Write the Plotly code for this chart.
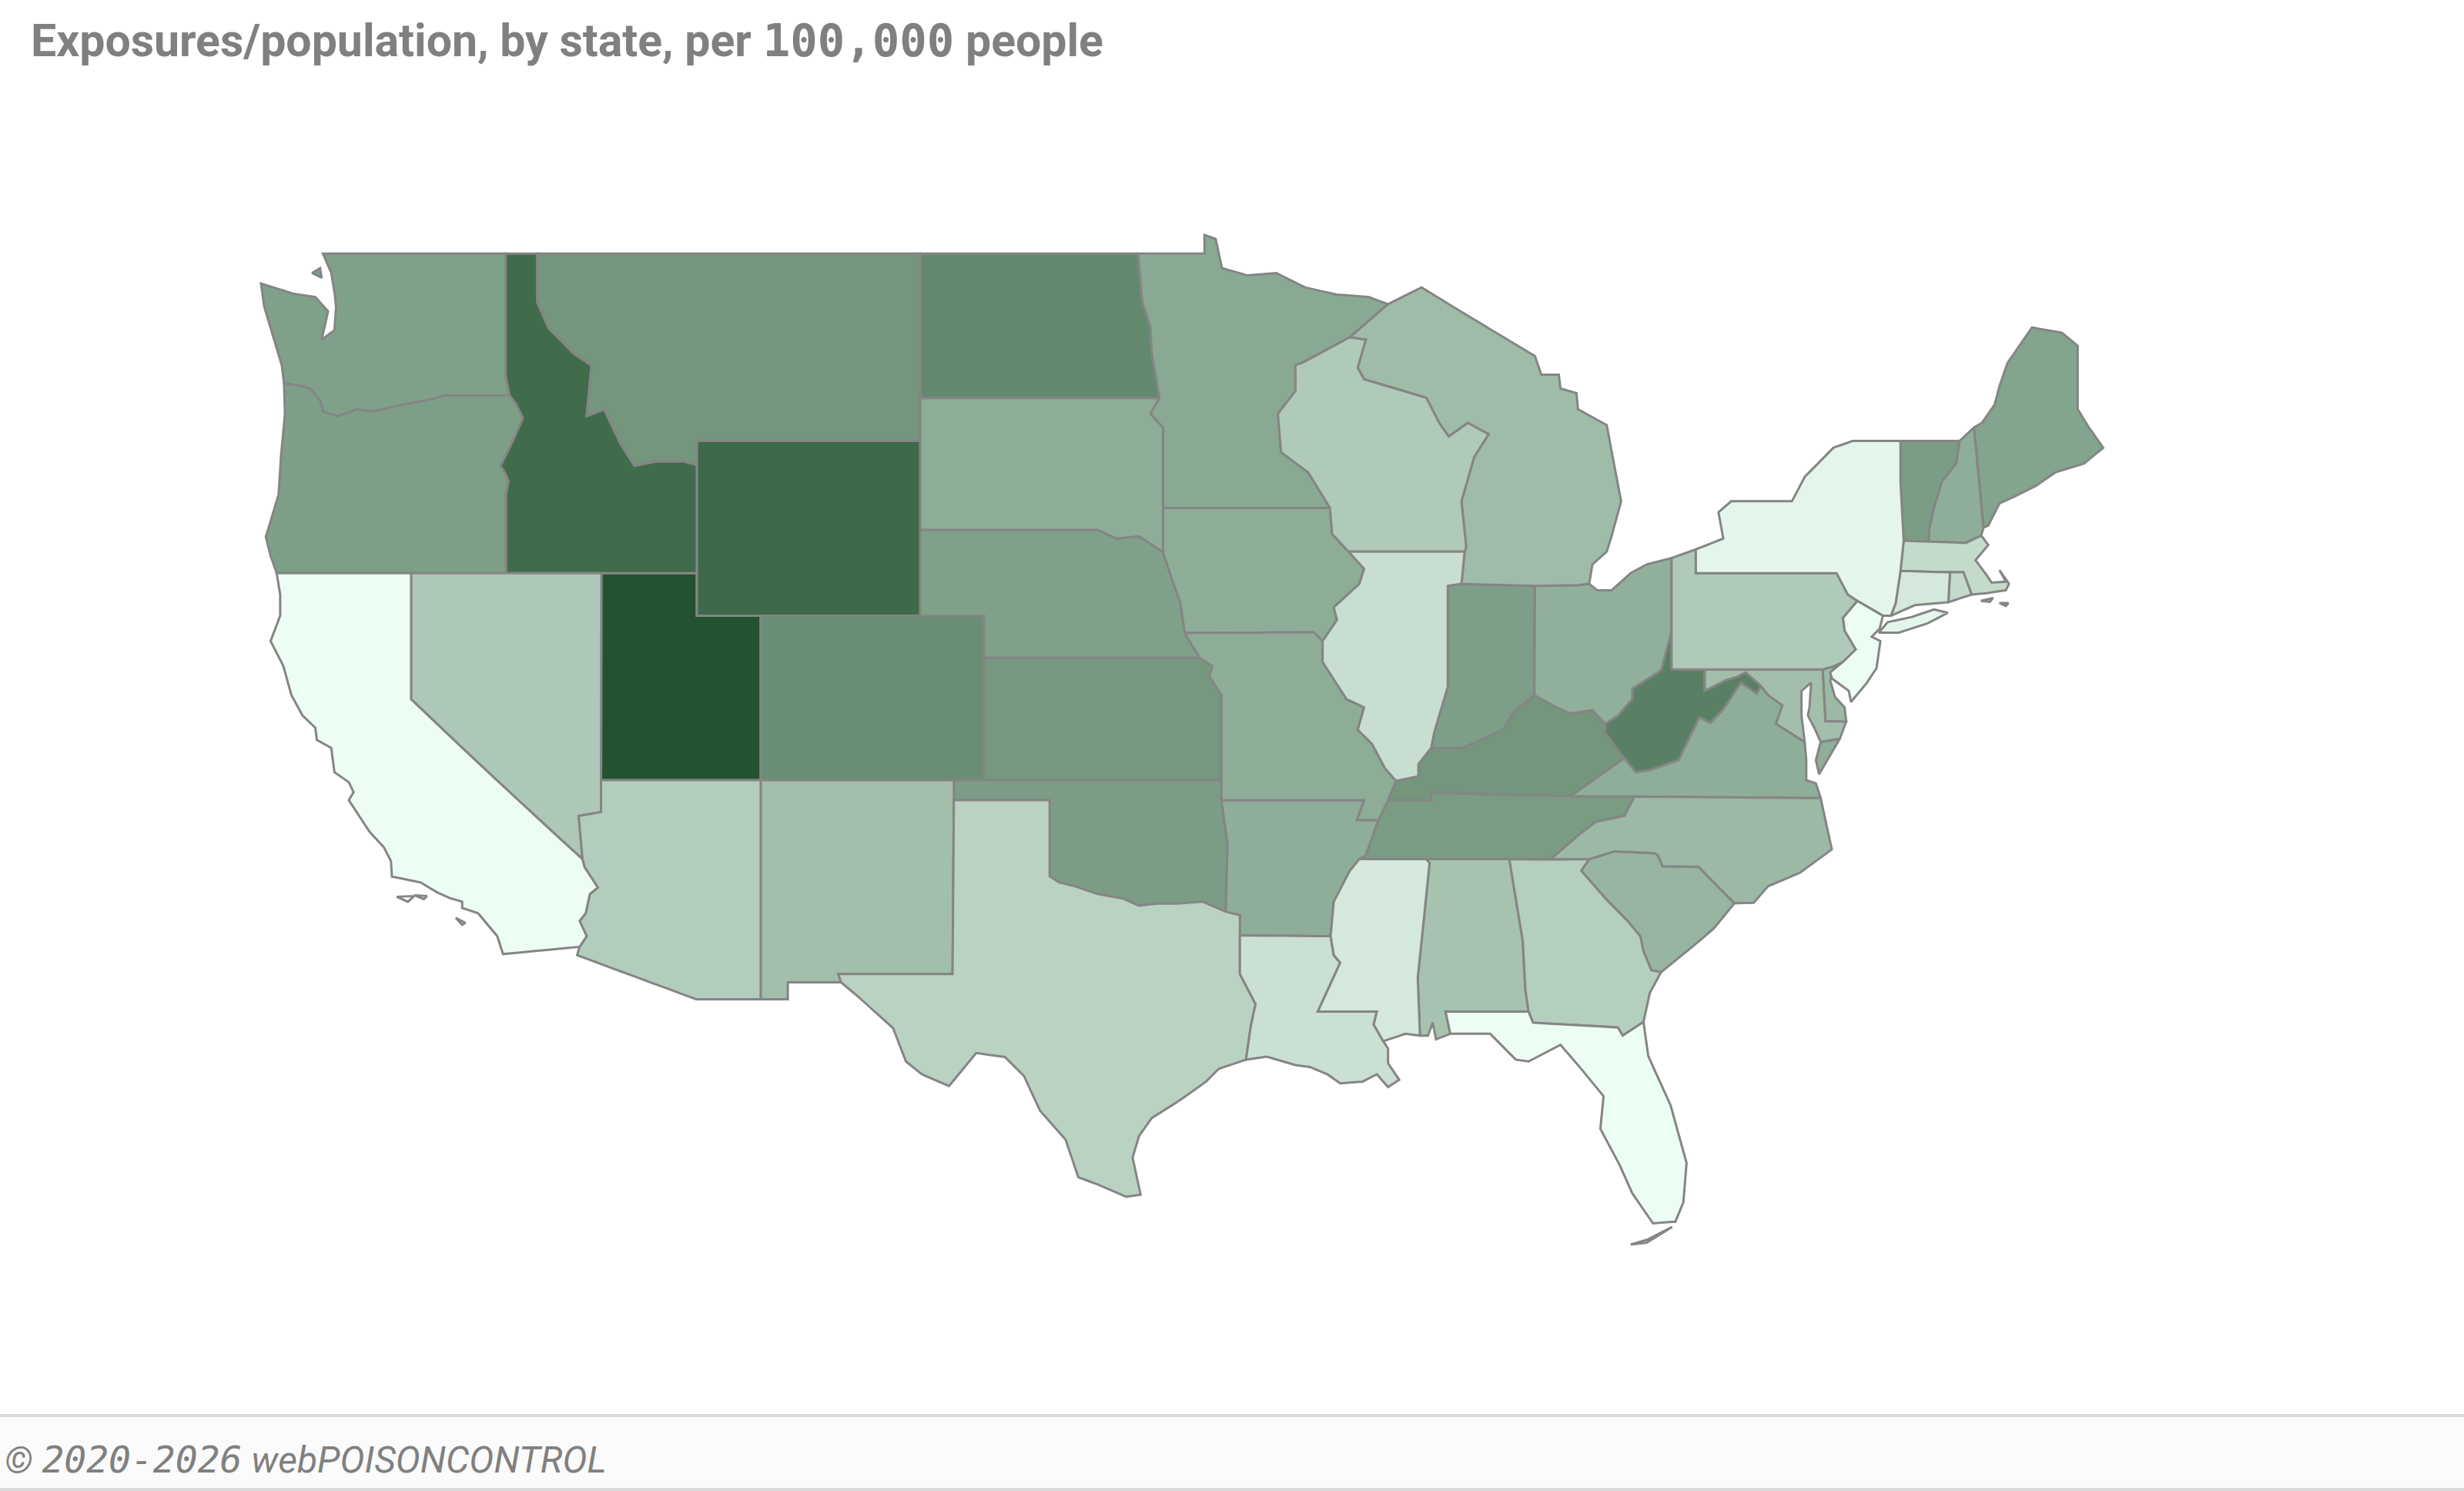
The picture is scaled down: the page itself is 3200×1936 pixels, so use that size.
import math

import plotly.colors
import plotly.graph_objects as go

# plotly fetches its US topojson from a CDN and there is no network here,
# so the state outlines are typed in by hand (lon, lat) and drawn as filled scattergeo traces
states = ["UT", "WY", "ID", "WV", "ND", "CO", "MT", "KS", "KY", "OK", "TN", "VT", "IN", "OR", "WA",
          "NE", "ME", "OH", "IA", "MN", "AR", "MO", "NH", "SD", "VA", "SC", "DE", "NC", "MI", "MD",
          "NM", "AL", "PA", "NV", "WI", "AZ", "GA", "TX", "MA", "RI", "LA", "IL", "CT", "MS", "NY",
          "NJ", "FL", "CA"]
rates = [100, 86, 85, 73, 68, 65, 60, 59, 60, 56, 57, 56, 55, 55, 54,
         54, 52, 45, 47, 49, 46, 47, 46, 47, 46, 42, 40, 40, 38, 36,
         36, 34, 30, 31, 30, 28, 27, 25, 20, 20, 17, 18, 12, 12, 4,
         0, 0, 0]

outlines = {
    "WA": [[(-122.76, 49), (-122.5, 48.6), (-122.4, 48.2), (-122.35, 47.9), (-122.4, 47.4), (-122.8, 47.2), (-122.6, 47.8), (-123, 48.1), (-123.7, 48.17), (-124.7, 48.38), (-124.6, 47.9), (-124.2, 47), (-124.05, 46.65), (-123.98, 46.27), (-123.4, 46.2), (-123.15, 46.15), (-122.85, 45.9), (-122.75, 45.65), (-122.3, 45.55), (-121.7, 45.7), (-121.2, 45.65), (-120.6, 45.75), (-119.9, 45.85), (-119.3, 45.93), (-118.98, 46), (-116.92, 46), (-117.04, 46.42), (-117.04, 49)],
           [(-123.1, 48.6), (-122.85, 48.7), (-122.8, 48.5)]],
    "OR": [[(-123.98, 46.27), (-123.95, 45.6), (-124.07, 44.7), (-124.15, 43.8), (-124.4, 43.2), (-124.55, 42.84), (-124.4, 42.4), (-124.21, 42), (-120, 42), (-117.03, 42), (-117.03, 43.8), (-116.95, 44.1), (-117.03, 44.25), (-117.2, 44.45), (-116.85, 44.95), (-116.5, 45.5), (-116.7, 45.8), (-116.92, 46), (-118.98, 46), (-119.3, 45.93), (-119.9, 45.85), (-120.6, 45.75), (-121.2, 45.65), (-121.7, 45.7), (-122.3, 45.55), (-122.75, 45.65), (-122.85, 45.9), (-123.15, 46.15), (-123.4, 46.2)]],
    "CA": [[(-124.21, 42), (-124.1, 41.5), (-124.1, 41), (-124.4, 40.4), (-124, 39.8), (-123.75, 39.1), (-123.4, 38.6), (-123, 38.3), (-122.95, 38), (-122.5, 37.8), (-122.4, 37.2), (-121.95, 36.95), (-121.8, 36.7), (-121.95, 36.5), (-121.3, 35.7), (-120.85, 35.3), (-120.63, 34.95), (-120.6, 34.55), (-119.7, 34.4), (-119.2, 34.15), (-118.8, 34), (-118.4, 33.9), (-118.4, 33.74), (-117.9, 33.6), (-117.3, 33), (-117.12, 32.53), (-114.72, 32.72), (-114.5, 33), (-114.72, 33.4), (-114.53, 33.6), (-114.4, 34.1), (-114.15, 34.27), (-114.57, 34.8), (-114.63, 35), (-120, 39), (-120, 42)],
           [(-120.45, 34.03), (-119.9, 34.05), (-120.1, 33.9)], [(-119.9, 34.07), (-119.5, 34.05), (-119.6, 33.97)], [(-118.6, 33.48), (-118.3, 33.35), (-118.4, 33.3)]],
    "NV": [[(-120, 42), (-120, 39), (-114.63, 35), (-114.75, 36.1), (-114.05, 36.2), (-114.05, 37), (-114.04, 42), (-117.03, 42)]],
    "ID": [[(-117.04, 49), (-117.04, 46.42), (-116.92, 46), (-116.7, 45.8), (-116.5, 45.5), (-116.85, 44.95), (-117.2, 44.45), (-117.03, 44.25), (-116.95, 44.1), (-117.03, 43.8), (-117.03, 42), (-114.04, 42), (-111.05, 42), (-111.05, 44.47), (-111.5, 44.55), (-112.3, 44.55), (-113, 44.45), (-113.45, 44.95), (-113.95, 45.7), (-114.5, 45.55), (-114.35, 46.65), (-114.9, 46.9), (-115.7, 47.45), (-116.05, 48), (-116.05, 49)]],
    "MT": [[(-116.05, 49), (-116.05, 48), (-115.7, 47.45), (-114.9, 46.9), (-114.35, 46.65), (-114.5, 45.55), (-113.95, 45.7), (-113.45, 44.95), (-113, 44.45), (-112.3, 44.55), (-111.5, 44.55), (-111.05, 44.47), (-111.05, 45), (-104.05, 45), (-104.05, 45.94), (-104.05, 49)]],
    "WY": [[(-111.05, 45), (-104.05, 45), (-104.05, 43), (-104.05, 41), (-109.05, 41), (-111.05, 41), (-111.05, 42), (-111.05, 44.47)]],
    "UT": [[(-114.04, 42), (-111.05, 42), (-111.05, 41), (-109.05, 41), (-109.05, 37), (-114.05, 37)]],
    "AZ": [[(-114.05, 37), (-109.05, 37), (-109.05, 31.33), (-111.07, 31.33), (-114.8, 32.5), (-114.72, 32.72), (-114.5, 33), (-114.72, 33.4), (-114.53, 33.6), (-114.4, 34.1), (-114.15, 34.27), (-114.57, 34.8), (-114.63, 35), (-114.75, 36.1), (-114.05, 36.2)]],
    "CO": [[(-109.05, 41), (-104.05, 41), (-102.05, 41), (-102.05, 40), (-102.05, 37), (-103, 37), (-109.05, 37)]],
    "NM": [[(-109.05, 37), (-103, 37), (-103, 36.5), (-103.04, 32), (-106.62, 32), (-106.53, 31.78), (-108.2, 31.78), (-108.2, 31.33), (-109.05, 31.33)]],
    "ND": [[(-104.05, 49), (-97.23, 49), (-97.1, 48), (-96.85, 47.5), (-96.8, 46.9), (-96.56, 45.94), (-104.05, 45.94)]],
    "SD": [[(-104.05, 45.94), (-96.56, 45.94), (-96.85, 45.6), (-96.45, 45.3), (-96.45, 43.5), (-96.45, 42.49), (-97.2, 42.85), (-97.9, 42.8), (-98.5, 43), (-104.05, 43), (-104.05, 45)]],
    "NE": [[(-104.05, 43), (-98.5, 43), (-97.9, 42.8), (-97.2, 42.85), (-96.45, 42.49), (-96.1, 41.7), (-95.9, 41.3), (-95.77, 40.59), (-95.3, 40), (-102.05, 40), (-102.05, 41), (-104.05, 41)]],
    "KS": [[(-102.05, 40), (-95.3, 40), (-94.9, 39.8), (-95, 39.55), (-94.62, 39.1), (-94.62, 37), (-103, 37), (-102.05, 37)]],
    "OK": [[(-103, 37), (-94.62, 37), (-94.62, 36.5), (-94.43, 35.4), (-94.48, 33.64), (-95.2, 33.9), (-96, 33.85), (-96.6, 33.85), (-97.2, 33.8), (-97.7, 33.98), (-98.5, 34.1), (-99.2, 34.3), (-99.7, 34.4), (-100, 34.56), (-100, 36.5), (-103, 36.5)]],
    "TX": [[(-106.62, 32), (-103.04, 32), (-103, 36.5), (-100, 36.5), (-100, 34.56), (-99.7, 34.4), (-99.2, 34.3), (-98.5, 34.1), (-97.7, 33.98), (-97.2, 33.8), (-96.6, 33.85), (-96, 33.85), (-95.2, 33.9), (-94.48, 33.64), (-94.04, 33.55), (-94.04, 33.02), (-94.04, 32), (-93.55, 31.2), (-93.7, 30.6), (-93.85, 29.7), (-94.7, 29.45), (-95.1, 29.1), (-95.9, 28.6), (-96.8, 28.1), (-97.2, 27.6), (-97.4, 27), (-97.15, 25.96), (-97.6, 25.9), (-98.5, 26.25), (-99.1, 26.45), (-99.5, 27.5), (-100.3, 28.3), (-100.8, 29.25), (-101.4, 29.77), (-102.3, 29.88), (-103.15, 28.98), (-104, 29.3), (-104.5, 29.65), (-104.9, 30.55), (-106, 31.4), (-106.53, 31.78)]],
    "MN": [[(-97.23, 49), (-95.15, 49), (-95.15, 49.38), (-94.8, 49.3), (-94.6, 48.7), (-93.8, 48.55), (-92.9, 48.6), (-92, 48.3), (-91, 48.15), (-90, 48.1), (-89.4, 47.95), (-90.6, 47.25), (-92.1, 46.7), (-92.3, 46.66), (-92.3, 46.1), (-92.85, 45.6), (-92.75, 44.75), (-91.9, 44.3), (-91.22, 43.5), (-96.45, 43.5), (-96.45, 45.3), (-96.85, 45.6), (-96.56, 45.94), (-96.8, 46.9), (-96.85, 47.5), (-97.1, 48)]],
    "WI": [[(-92.1, 46.7), (-90.6, 47.25), (-90.1, 47.2), (-90.35, 46.6), (-90.15, 46.35), (-88.2, 45.95), (-87.8, 45.4), (-87.5, 45.1), (-86.9, 45.4), (-86.25, 45.15), (-86.7, 44.65), (-87.1, 43.65), (-86.95, 42.6), (-87, 42.5), (-90.64, 42.5), (-91.15, 42.9), (-91.22, 43.5), (-91.9, 44.3), (-92.75, 44.75), (-92.85, 45.6), (-92.3, 46.1), (-92.3, 46.66)]],
    "MI": [[(-89.4, 47.95), (-88.35, 48.3), (-84.8, 46.85), (-84.6, 46.45), (-84.05, 46.45), (-84, 46.15), (-83.5, 46.05), (-83.45, 45.7), (-82.55, 45.35), (-82.1, 43.65), (-82.4, 42.85), (-82.55, 42.5), (-83, 42.2), (-83.1, 41.75), (-83.45, 41.72), (-84.8, 41.7), (-87.1, 41.75), (-87, 42.5), (-86.95, 42.6), (-87.1, 43.65), (-86.7, 44.65), (-86.25, 45.15), (-86.9, 45.4), (-87.5, 45.1), (-87.8, 45.4), (-88.2, 45.95), (-90.15, 46.35), (-90.35, 46.6), (-90.1, 47.2), (-90.6, 47.25)]],
    "IA": [[(-96.45, 43.5), (-91.22, 43.5), (-91.15, 42.9), (-90.64, 42.5), (-90.15, 42.1), (-90.3, 41.75), (-91.1, 41.2), (-91, 40.9), (-91.45, 40.4), (-91.73, 40.61), (-95.77, 40.59), (-95.9, 41.3), (-96.1, 41.7), (-96.45, 42.49)]],
    "IL": [[(-90.64, 42.5), (-87, 42.5), (-87.1, 41.75), (-87.53, 41.7), (-87.53, 39.3), (-87.95, 38.2), (-88.05, 37.8), (-88.45, 37.4), (-88.45, 37.1), (-89.15, 36.98), (-89.5, 37.3), (-89.9, 37.9), (-90.35, 38.25), (-90.15, 38.8), (-90.7, 39), (-91.45, 39.9), (-91.45, 40.4), (-91, 40.9), (-91.1, 41.2), (-90.3, 41.75), (-90.15, 42.1)]],
    "IN": [[(-87.53, 41.7), (-87.1, 41.75), (-84.8, 41.7), (-84.82, 39.1), (-85.45, 38.7), (-85.8, 38.25), (-86.5, 38), (-87.1, 37.8), (-88.05, 37.8), (-87.95, 38.2), (-87.53, 39.3)]],
    "OH": [[(-84.8, 41.7), (-83.45, 41.72), (-83.1, 41.75), (-82.85, 41.6), (-82.4, 41.6), (-81.8, 42), (-81.3, 42.2), (-80.52, 42.35), (-80.52, 40.64), (-80.6, 40.4), (-80.85, 39.7), (-81.75, 39.25), (-81.75, 39), (-82.2, 38.6), (-82.6, 38.4), (-83, 38.73), (-83.7, 38.65), (-84.25, 38.85), (-84.82, 39.1)]],
    "MO": [[(-95.77, 40.59), (-91.73, 40.61), (-91.45, 40.4), (-91.45, 39.9), (-90.7, 39), (-90.15, 38.8), (-90.35, 38.25), (-89.9, 37.9), (-89.5, 37.3), (-89.15, 36.98), (-89.4, 36.5), (-89.7, 36), (-90.37, 36), (-90.15, 36.5), (-94.62, 36.5), (-94.62, 37), (-94.62, 39.1), (-95, 39.55), (-94.9, 39.8), (-95.3, 40)]],
    "AR": [[(-94.62, 36.5), (-90.15, 36.5), (-90.37, 36), (-89.7, 36), (-90.1, 35.1), (-90.3, 35), (-90.6, 34.7), (-91.1, 33.9), (-91.2, 33), (-94.04, 33.02), (-94.04, 33.55), (-94.48, 33.64), (-94.43, 35.4)]],
    "LA": [[(-94.04, 33.02), (-91.2, 33), (-91.1, 32.5), (-90.9, 32.3), (-91.6, 31), (-89.75, 31), (-89.85, 30.65), (-89.55, 30.2), (-89.4, 30), (-89.4, 29.6), (-89.05, 29.15), (-89.4, 28.95), (-89.75, 29.3), (-90.2, 29.1), (-90.9, 29.05), (-91.3, 29.3), (-91.85, 29.5), (-92.3, 29.55), (-93.2, 29.78), (-93.85, 29.7), (-93.7, 30.6), (-93.55, 31.2), (-94.04, 32)]],
    "MS": [[(-90.3, 35), (-88.2, 35), (-88.1, 34.9), (-88.47, 31.9), (-88.4, 30.35), (-88.85, 30.4), (-89.55, 30.2), (-89.85, 30.65), (-89.75, 31), (-91.6, 31), (-90.9, 32.3), (-91.1, 32.5), (-91.2, 33), (-91.1, 33.9), (-90.6, 34.7)]],
    "AL": [[(-88.2, 35), (-85.6, 35), (-85.18, 32.87), (-85.1, 31.6), (-85, 31), (-87.6, 31), (-87.45, 30.4), (-87.9, 30.25), (-88, 30.7), (-88.15, 30.35), (-88.4, 30.35), (-88.47, 31.9), (-88.1, 34.9)]],
    "TN": [[(-89.4, 36.5), (-88.05, 36.5), (-88.05, 36.68), (-83.68, 36.6), (-81.68, 36.59), (-82, 36.1), (-82.9, 35.95), (-83.5, 35.57), (-84.32, 34.99), (-85.6, 35), (-88.2, 35), (-90.3, 35), (-90.1, 35.1), (-89.7, 36)]],
    "KY": [[(-89.15, 36.98), (-88.45, 37.1), (-88.45, 37.4), (-88.05, 37.8), (-87.1, 37.8), (-86.5, 38), (-85.8, 38.25), (-85.45, 38.7), (-84.82, 39.1), (-84.25, 38.85), (-83.7, 38.65), (-83, 38.73), (-82.6, 38.4), (-82.6, 38.17), (-82, 37.55), (-83.68, 36.6), (-88.05, 36.68), (-88.05, 36.5), (-89.4, 36.5)]],
    "WV": [[(-80.52, 40.64), (-80.52, 39.72), (-79.48, 39.72), (-79.48, 39.2), (-78.85, 39.45), (-78.45, 39.55), (-78.2, 39.65), (-77.72, 39.32), (-77.85, 39.13), (-78.35, 39.4), (-78.9, 38.75), (-79.3, 38.42), (-79.65, 38.55), (-80.3, 37.5), (-81.2, 37.25), (-81.65, 37.2), (-82, 37.55), (-82.6, 38.17), (-82.6, 38.4), (-82.2, 38.6), (-81.75, 39), (-81.75, 39.25), (-80.85, 39.7), (-80.6, 40.4)]],
    "VA": [[(-83.68, 36.6), (-82, 37.55), (-81.65, 37.2), (-81.2, 37.25), (-80.3, 37.5), (-79.65, 38.55), (-79.3, 38.42), (-78.9, 38.75), (-78.35, 39.4), (-77.85, 39.13), (-77.72, 39.32), (-77.5, 39.1), (-77.05, 38.85), (-77.25, 38.4), (-76.95, 38.25), (-76.35, 37.95), (-76.3, 37.5), (-76.3, 37), (-76, 36.92), (-75.85, 36.55), (-81.68, 36.59)],
           [(-75.85, 37.95), (-75.25, 38.03), (-75.9, 37.15), (-76, 37.5)]],
    "NC": [[(-84.32, 34.99), (-83.5, 35.57), (-82.9, 35.95), (-82, 36.1), (-81.68, 36.59), (-75.85, 36.55), (-75.5, 35.25), (-76.5, 34.65), (-77.5, 34.3), (-77.95, 33.87), (-78.55, 33.86), (-79.67, 34.8), (-80.8, 34.82), (-80.95, 35.1), (-81.05, 35.15), (-82.3, 35.2), (-83.1, 35)]],
    "SC": [[(-83.1, 35), (-82.3, 35.2), (-81.05, 35.15), (-80.95, 35.1), (-80.8, 34.82), (-79.67, 34.8), (-78.55, 33.86), (-79.2, 33.2), (-79.9, 32.7), (-80.85, 32.05), (-81.15, 32.1), (-81.4, 32.6), (-81.5, 33), (-81.9, 33.4), (-82.55, 33.95), (-83.35, 34.7)]],
    "GA": [[(-85.6, 35), (-84.32, 34.99), (-83.1, 35), (-83.35, 34.7), (-82.55, 33.95), (-81.9, 33.4), (-81.5, 33), (-81.4, 32.6), (-81.15, 32.1), (-80.85, 32.05), (-81.2, 31.5), (-81.4, 30.72), (-82.05, 30.35), (-82.2, 30.57), (-84.86, 30.7), (-85, 31), (-85.1, 31.6), (-85.18, 32.87)]],
    "FL": [[(-87.6, 31), (-85, 31), (-84.86, 30.7), (-82.2, 30.57), (-82.05, 30.35), (-81.4, 30.72), (-81.25, 29.8), (-80.55, 28.45), (-80.05, 26.85), (-80.15, 25.75), (-80.4, 25.2), (-81.1, 25.15), (-81.75, 26), (-82.15, 26.8), (-82.75, 27.8), (-82.65, 28.7), (-83.4, 29.5), (-84, 30.1), (-85, 29.65), (-85.4, 29.7), (-86.2, 30.4), (-87.45, 30.4)],
           [(-81.8, 24.55), (-81.3, 24.68), (-80.5, 25.05), (-81.3, 24.6)]],
    "PA": [[(-80.52, 42.35), (-79.76, 42.55), (-79.76, 42), (-75.35, 42), (-75, 41.5), (-74.7, 41.35), (-75.15, 40.95), (-75.1, 40.65), (-74.75, 40.2), (-75.15, 39.9), (-75.42, 39.8), (-75.79, 39.72), (-79.48, 39.72), (-80.52, 39.72), (-80.52, 40.64)]],
    "NY": [[(-79.76, 42), (-79.76, 42.55), (-78.9, 42.8), (-79.05, 43.4), (-78.65, 43.65), (-76.75, 43.65), (-76.35, 44.2), (-75.45, 44.85), (-74.85, 45), (-73.35, 45), (-73.35, 44.1), (-73.25, 42.75), (-73.35, 42.05), (-73.5, 41.3), (-73.65, 41), (-73.9, 41), (-74.7, 41.35), (-75, 41.5), (-75.35, 42)],
           [(-74.03, 40.6), (-73.75, 40.85), (-73, 40.97), (-72.3, 41.15), (-71.87, 41.07), (-72.5, 40.82), (-73.4, 40.6)]],
    "VT": [[(-73.35, 45), (-71.5, 45), (-71.6, 44.5), (-72.05, 44.1), (-72.3, 43.5), (-72.45, 43), (-72.46, 42.73), (-73.25, 42.75), (-73.35, 44.1)]],
    "NH": [[(-71.5, 45), (-71.05, 45.3), (-70.75, 43.05), (-70.82, 42.87), (-71.3, 42.7), (-72.46, 42.73), (-72.45, 43), (-72.3, 43.5), (-72.05, 44.1), (-71.6, 44.5)]],
    "ME": [[(-71.05, 45.3), (-70.8, 45.4), (-70.4, 45.8), (-70.25, 46.2), (-70, 46.7), (-69.23, 47.46), (-69, 47.43), (-68.3, 47.35), (-67.8, 47.07), (-67.8, 45.7), (-67.45, 45.3), (-67, 44.85), (-67.6, 44.5), (-68.5, 44.3), (-69.1, 44), (-69.8, 43.75), (-70.25, 43.6), (-70.6, 43.1), (-70.75, 43.05)]],
    "MA": [[(-73.25, 42.75), (-72.46, 42.73), (-71.3, 42.7), (-70.82, 42.87), (-70.6, 42.65), (-71, 42.3), (-70.65, 41.95), (-70.5, 41.78), (-70.05, 41.8), (-70.25, 42.07), (-69.95, 41.75), (-70.05, 41.6), (-70.65, 41.53), (-71.12, 41.5), (-71.38, 42.02), (-71.8, 42.02), (-73.35, 42.05)],
           [(-70.83, 41.35), (-70.45, 41.42), (-70.55, 41.33)], [(-70.25, 41.3), (-69.97, 41.3), (-70.05, 41.23)]],
    "CT": [[(-73.35, 42.05), (-71.8, 42.02), (-71.85, 41.32), (-72.9, 41.25), (-73.65, 41), (-73.5, 41.3)]],
    "RI": [[(-71.8, 42.02), (-71.38, 42.02), (-71.12, 41.5), (-71.85, 41.32)]],
    "NJ": [[(-74.7, 41.35), (-73.9, 41), (-74, 40.7), (-74.25, 40.5), (-73.98, 40.4), (-74.1, 39.75), (-74.4, 39.4), (-74.9, 38.93), (-74.97, 39.2), (-75.5, 39.5), (-75.55, 39.65), (-75.15, 39.9), (-74.75, 40.2), (-75.1, 40.65), (-75.15, 40.95)]],
    "DE": [[(-75.79, 39.72), (-75.42, 39.8), (-75.55, 39.45), (-75.4, 39.05), (-75.1, 38.8), (-75.05, 38.45), (-75.7, 38.46)]],
    "MD": [[(-79.48, 39.72), (-75.79, 39.72), (-75.7, 38.46), (-75.05, 38.45), (-75.25, 38.03), (-75.85, 37.95), (-76.05, 38.3), (-76.25, 38.6), (-76.2, 38.8), (-76.15, 39.4), (-76.45, 39.2), (-76.45, 38.6), (-76.35, 37.95), (-76.95, 38.25), (-77.25, 38.4), (-77.05, 38.85), (-77.5, 39.1), (-77.72, 39.32), (-78.2, 39.65), (-78.45, 39.55), (-78.85, 39.45), (-79.48, 39.2)]],
}

green_scale = [[0, "#ecfdf3"], [1, "#22522f"]]


def closed_ring(ring):
    # d3-geo wants outer rings clockwise, otherwise the polygon covers the rest of the globe
    area = sum(a[0] * b[1] - b[0] * a[1] for a, b in zip(ring, ring[1:] + ring[:1]))
    ring = ring[::-1] if area > 0 else ring
    ring = ring + ring[:1]
    # edges are great arcs, so split the long ones or the 49th parallel bows upwards
    out = [ring[0]]
    for a, b in zip(ring, ring[1:]):
        n = math.ceil(max(abs(b[0] - a[0]), abs(b[1] - a[1])) / 0.5)
        for i in range(1, n + 1):
            out.append((a[0] + (b[0] - a[0]) * i / n, a[1] + (b[1] - a[1]) * i / n))
    return out


fig = go.Figure()
fills = plotly.colors.sample_colorscale(green_scale, [r / max(rates) for r in rates])
for st, fill in zip(states, fills):
    lons, lats = [], []
    for ring in outlines[st]:
        ring = closed_ring(ring)
        lons += [p[0] for p in ring] + [None]
        lats += [p[1] for p in ring] + [None]
    fig.add_trace(go.Scattergeo(lon=lons[:-1], lat=lats[:-1], mode="lines", fill="toself", fillcolor=fill, name=st,
                                line=dict(color="#858585", width=3), showlegend=False))

# wider ranges than the map itself, plotly clips just inside the range box
fig.update_geos(projection_type="mercator", lonaxis_range=[-128, -64], lataxis_range=[22, 53],
                domain_x=[189.5 / 3200, 2868.5 / 3200], domain_y=[1 - 1829 / 1936, 1 - 145 / 1936],
                showland=False, showlakes=False, showcoastlines=False, showcountries=False,
                showsubunits=False, showframe=False, bgcolor="rgba(0,0,0,0)")

title = "Exposures/population, by state, per <span style=\"font-family:'DejaVu Sans Mono'\">100,000</span> people"
footer = "© <span style=\"font-family:'DejaVu Sans Mono'\">2020-2026</span> webPOISONCONTROL"
fig.update_layout(width=3200, height=1936, margin=dict(l=0, r=0, t=0, b=0), paper_bgcolor="white",
                  title=dict(text=title, x=40 / 3200, xanchor="left", y=1 - 52 / 1936, yanchor="middle",
                             font=dict(family="Roboto", size=59, color="#808080", weight="bold")))
fig.add_shape(type="rect", xref="paper", yref="paper", x0=0, x1=1, y0=0, y1=1 - 1836 / 1936,
              fillcolor="#fbfbfb", line_width=0, layer="below")
fig.add_shape(type="rect", xref="paper", yref="paper", x0=0, x1=1, y0=1 - 1840 / 1936, y1=1 - 1836 / 1936,
              fillcolor="#d9d9d9", line_width=0)
fig.add_shape(type="rect", xref="paper", yref="paper", x0=0, x1=1, y0=0, y1=1 - 1932 / 1936,
              fillcolor="#d9d9d9", line_width=0)
fig.add_annotation(text=footer, xref="paper", yref="paper", x=4 / 3200, y=1 - 1895 / 1936, xanchor="left",
                   yanchor="middle", showarrow=False,
                   font=dict(family="Roboto", size=48, color="#808080", style="italic"))

fig.write_html("out.html", config={"displayModeBar": False}, post_script="document.body.style.margin = '0';")
